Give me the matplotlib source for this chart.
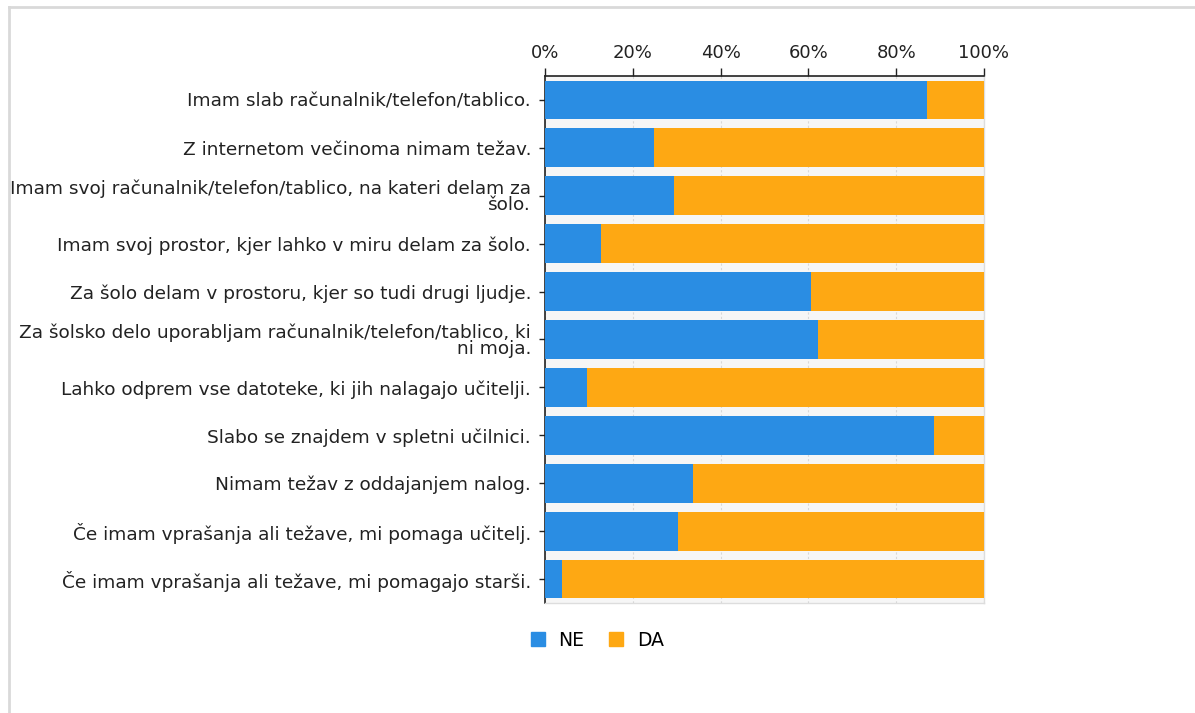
import matplotlib
matplotlib.use("Agg")
import matplotlib.pyplot as plt
from matplotlib.lines import Line2D
from matplotlib.ticker import FuncFormatter

plt.rcParams["font.family"] = ["DejaVu Sans"]

categories = [
    "Imam slab računalnik/telefon/tablico.",
    "Z internetom večinoma nimam težav.",
    "Imam svoj računalnik/telefon/tablico, na kateri delam za\nšolo.",
    "Imam svoj prostor, kjer lahko v miru delam za šolo.",
    "Za šolo delam v prostoru, kjer so tudi drugi ljudje.",
    "Za šolsko delo uporabljam računalnik/telefon/tablico, ki\nni moja.",
    "Lahko odprem vse datoteke, ki jih nalagajo učitelji.",
    "Slabo se znajdem v spletni učilnici.",
    "Nimam težav z oddajanjem nalog.",
    "Če imam vprašanja ali težave, mi pomaga učitelj.",
    "Če imam vprašanja ali težave, mi pomagajo starši.",
]
ne_values = [87.0, 24.8, 29.4, 12.7, 60.6, 62.2, 9.6, 88.5, 33.6, 30.2, 3.9]
da_values = [100 - v for v in ne_values]
series_names = ["NE", "DA"]
colors = ["#2a8de3", "#fea813"]
x_ticks = [0, 20, 40, 60, 80, 100]

fig = plt.figure(figsize=(11.95, 7.13), dpi=100)
ax = fig.add_axes([545/1195, 1-603/713, (984-545)/1195, (603-76)/713])
ax.set_facecolor("#f6f6f6")

y = list(range(len(categories)))
ax.barh(y, ne_values, height=0.81, color=colors[0], label=series_names[0], zorder=3)
ax.barh(y, da_values, left=ne_values, height=0.81, color=colors[1], label=series_names[1], zorder=3)

ax.set_xlim(0, 100)
ax.set_ylim(len(categories) - 0.5, -0.5)
ax.set_yticks(y)
ax.set_yticklabels(categories, fontsize=13.3, color="#222222", linespacing=0.88)
ax.set_xticks(x_ticks)
ax.xaxis.set_major_formatter(FuncFormatter(lambda v, p: f"{v:.0f}%"))
ax.xaxis.tick_top()
ax.tick_params(axis="x", which="major", length=6, width=1, color="#222222",
               labelsize=13, labelcolor="#222222", pad=4)
ax.tick_params(axis="y", length=4, width=1, color="#222222", pad=6)
ax.grid(axis="x", color="#d8d8d8", linestyle=(0, (2, 2)), linewidth=0.8, zorder=1)
ax.set_axisbelow(True)

for side in ["top", "left"]:
    ax.spines[side].set_color("#222222")
    ax.spines[side].set_linewidth(1.2)
for side in ["right", "bottom"]:
    ax.spines[side].set_color("#dddddd")
    ax.spines[side].set_linewidth(1.0)

handles = [Line2D([0], [0], marker="s", linestyle="none", markersize=9.5,
                  markerfacecolor=c, markeredgecolor=c) for c in colors]
fig.legend(handles, series_names, loc="center", bbox_to_anchor=(596/1195, 1-640/713),
           ncol=2, frameon=False, fontsize=13.5, handletextpad=0.6, columnspacing=1.2,
           handlelength=1.0)

# outer frame (top and left light gray lines)
fig.add_artist(Line2D([9/1195, 1.0], [1-7/713, 1-7/713], color="#d9d9d9", linewidth=2,
                      transform=fig.transFigure))
fig.add_artist(Line2D([9/1195, 9/1195], [1-7/713, 0], color="#d9d9d9", linewidth=2,
                      transform=fig.transFigure))

fig.savefig("out.png", dpi=100, facecolor="white")
